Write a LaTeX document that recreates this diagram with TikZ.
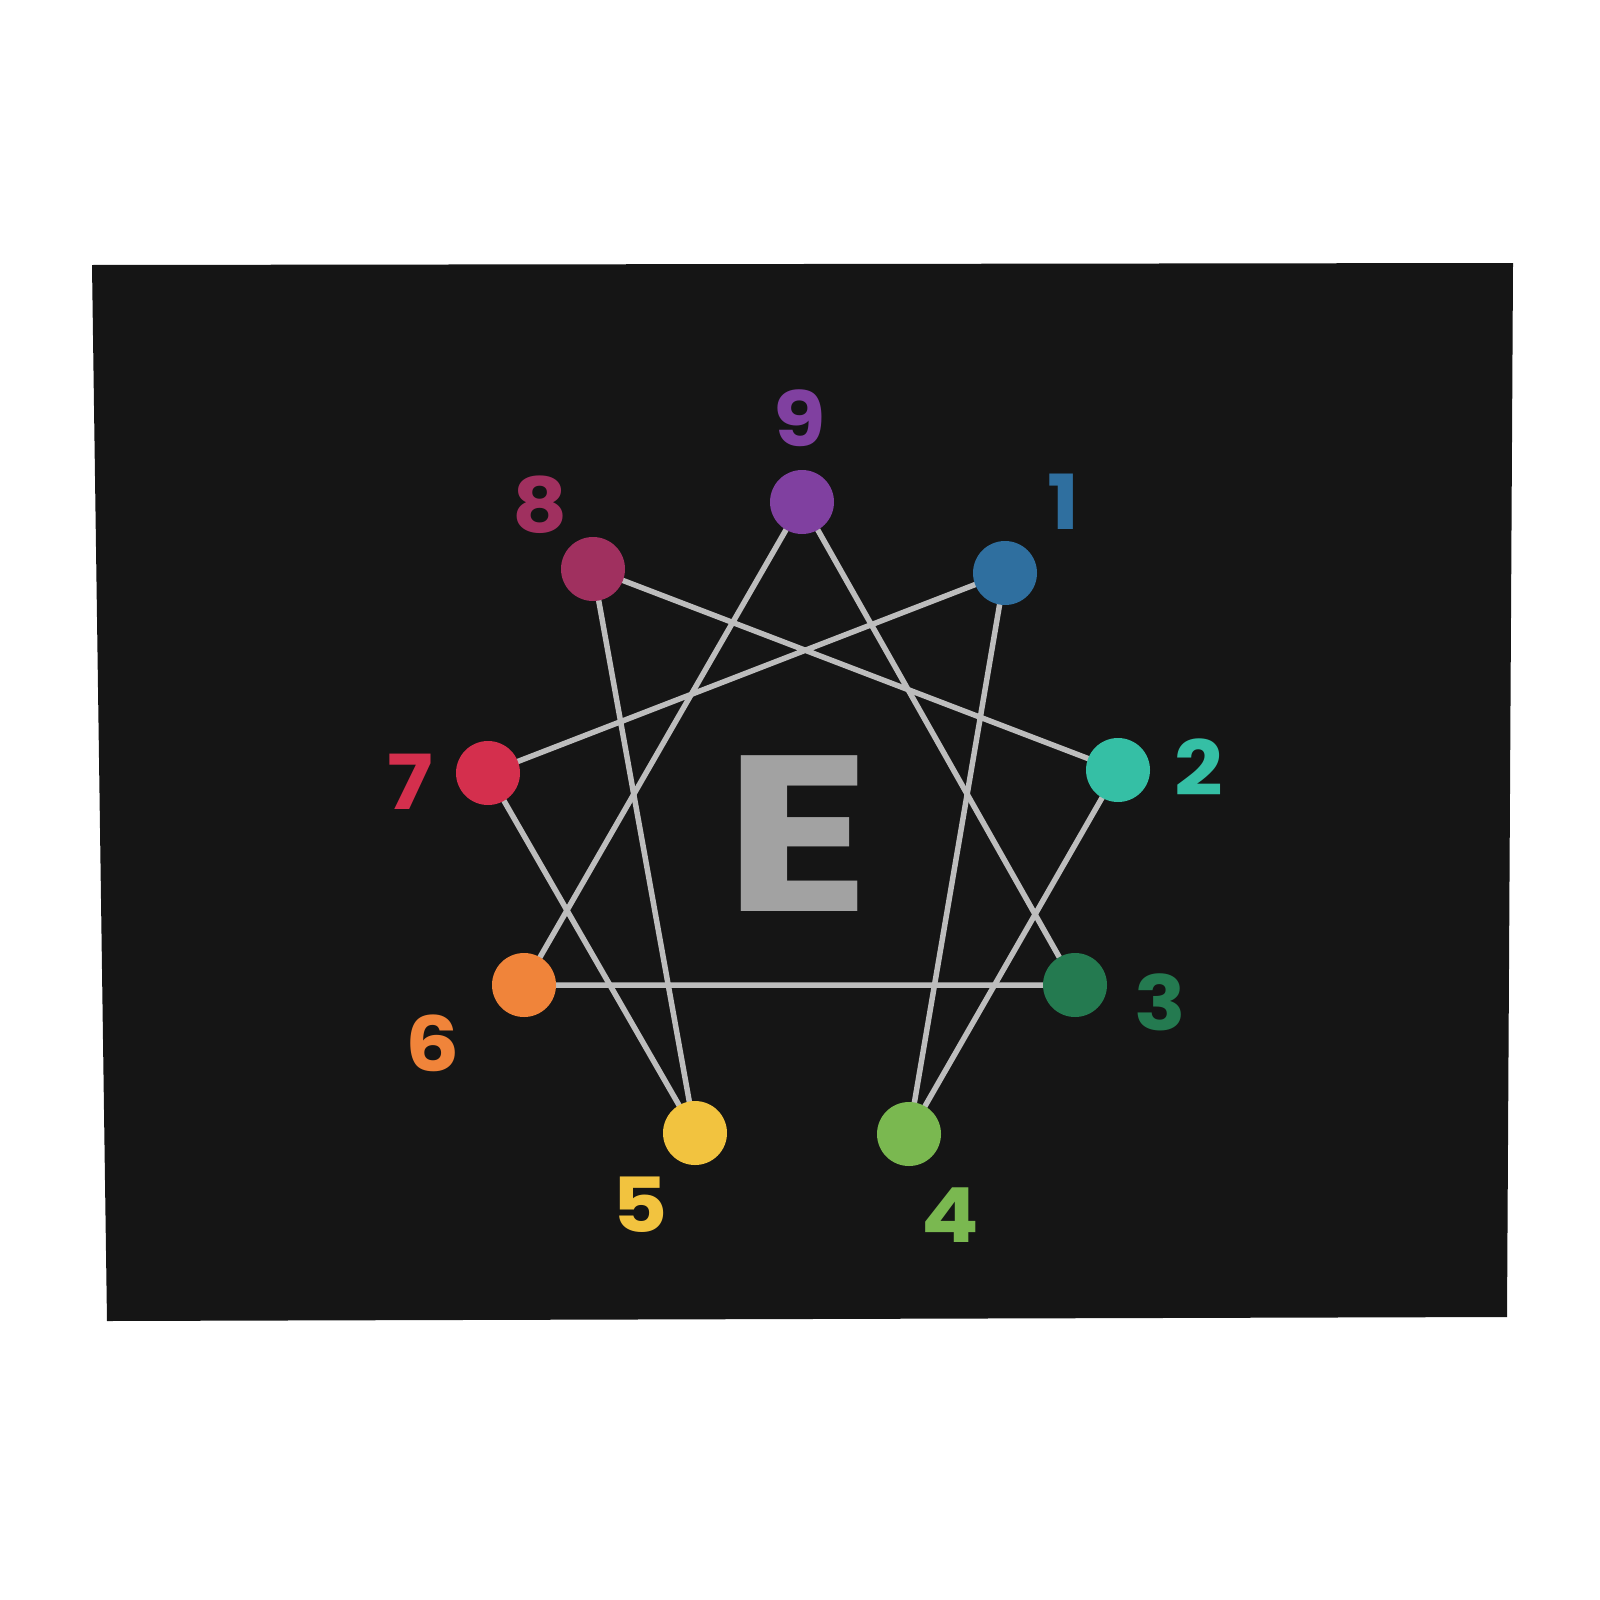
\documentclass[tikz,border=0pt]{standalone}
\usepackage{fontspec}
\newfontfamily\pop{Poppins}
\definecolor{bg}{HTML}{151515}
\definecolor{ln}{HTML}{BDBDBD}
\definecolor{cE}{HTML}{A2A2A2}
\definecolor{c1}{HTML}{2F6F9F}
\definecolor{c2}{HTML}{35BFA5}
\definecolor{c3}{HTML}{247A50}
\definecolor{c4}{HTML}{7AB850}
\definecolor{c5}{HTML}{F2C33F}
\definecolor{c6}{HTML}{F0843A}
\definecolor{c7}{HTML}{D42F4D}
\definecolor{c8}{HTML}{A0305F}
\definecolor{c9}{HTML}{8040A0}
\tikzset{
  dot/.style={circle, minimum size=64pt, inner sep=0pt, draw=none},
  lab/.style={inner sep=0pt, xscale=1.12, font=\pop\bfseries\fontsize{76}{76}\selectfont},
  conn/.style={draw=ln, line width=5.5pt}
}
\begin{document}
\begin{tikzpicture}[x=1pt,y=-1pt]
\useasboundingbox (0,0) rectangle (1600,1600);
\fill[white] (0,0) rectangle (1600,1600);
\fill[bg] (92,265) -- (1513,263) -- (1507,1317) -- (107,1321) -- cycle;
\coordinate (p9) at (802,502);
\coordinate (p1) at (1005,573);
\coordinate (p2) at (1118,770);
\coordinate (p3) at (1075,985);
\coordinate (p4) at (909,1134);
\coordinate (p5) at (695,1133);
\coordinate (p6) at (524,985);
\coordinate (p7) at (488,773);
\coordinate (p8) at (593,569);
\draw[conn] (p9) -- (p3) -- (p6) -- cycle;
\draw[conn] (p1) -- (p4) -- (p2) -- (p8) -- (p5) -- (p7) -- cycle;
\node[dot, fill=c9] (n9) at (p9) {};
\node[dot, fill=c1] (n1) at (p1) {};
\node[dot, fill=c2] (n2) at (p2) {};
\node[dot, fill=c3] (n3) at (p3) {};
\node[dot, fill=c4] (n4) at (p4) {};
\node[dot, fill=c5] (n5) at (p5) {};
\node[dot, fill=c6] (n6) at (p6) {};
\node[dot, fill=c7] (n7) at (p7) {};
\node[dot, fill=c8] (n8) at (p8) {};
\node[lab, text=c9] (l9) at (800,418) {9};
\node[lab, text=c1] (l1) at (1063,502) {1};
\node[lab, text=c2] (l2) at (1199,767) {2};
\node[lab, text=c3] (l3) at (1160,1002) {3};
\node[lab, text=c4] (l4) at (950,1215) {4};
\node[lab, text=c5] (l5) at (640,1205) {5};
\node[lab, text=c6] (l6) at (433,1043) {6};
\node[lab, text=c7] (l7) at (410,782) {7};
\node[lab, text=c8] (l8) at (540,505) {8};
\node[inner sep=0pt, text=cE, xscale=1.22, font=\pop\bfseries\fontsize{222}{222}\selectfont] (E) at (798,834) {E};
\end{tikzpicture}
\end{document}
